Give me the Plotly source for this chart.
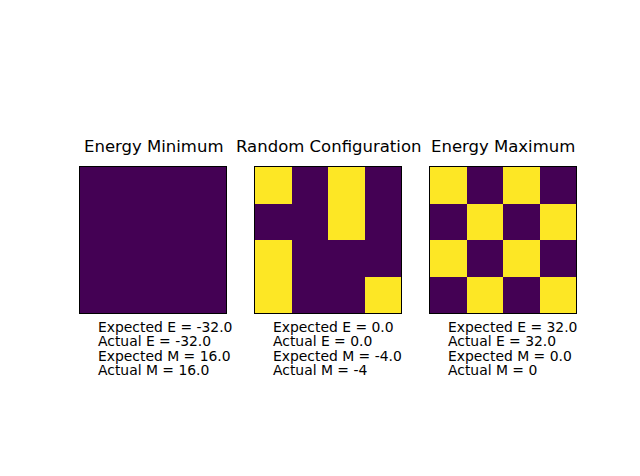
import plotly.graph_objects as go

titles = ["Energy Minimum", "Random Configuration", "Energy Maximum"]
grid_min = [[1, 1, 1, 1],
            [1, 1, 1, 1],
            [1, 1, 1, 1],
            [1, 1, 1, 1]]
grid_rand = [[1, -1, 1, -1],
             [-1, -1, 1, -1],
             [1, -1, -1, -1],
             [1, -1, -1, 1]]
grid_max = [[1, -1, 1, -1],
            [-1, 1, -1, 1],
            [1, -1, 1, -1],
            [-1, 1, -1, 1]]
grids = [grid_min, grid_rand, grid_max]
expected_E = ["-32.0", "0.0", "32.0"]
actual_E = ["-32.0", "0.0", "32.0"]
expected_M = ["16.0", "-4.0", "0.0"]
actual_M = ["16.0", "-4", "0"]

# page has an 8px body margin; figure is sized to fit inside the window
OFF = 8
W, H = 640 - OFF, 476 - OFF
ax_left = [80 - OFF, 255 - OFF, 430 - OFF]
ax_w = 146
ax_top, ax_bot = 167 - OFF, 313 - OFF

fig = go.Figure()
font = "DejaVu Sans, Liberation Sans, sans-serif"
anns = []
for i, z in enumerate(grids):
    flat = [v for r in z for v in r]
    zmin, zmax = min(flat), max(flat)
    if zmax == zmin:
        zmax = zmin + 1
    n = "" if i == 0 else str(i + 1)
    fig.add_trace(go.Heatmap(z=z, colorscale="Viridis", zmin=zmin, zmax=zmax,
                             showscale=False, xaxis="x" + n, yaxis="y" + n,
                             hoverinfo="skip"))
    dom_x = [ax_left[i] / W, (ax_left[i] + ax_w) / W]
    dom_y = [1 - ax_bot / H, 1 - ax_top / H]
    common = dict(showgrid=False, zeroline=False, showticklabels=False, ticks="",
                  showline=True, linecolor="black", linewidth=1, mirror=True)
    fig.update_layout(**{
        "xaxis" + n: dict(domain=dom_x, range=[-0.5, 3.5], anchor="y" + n, **common),
        "yaxis" + n: dict(domain=dom_y, range=[3.5, -0.5], anchor="x" + n, **common),
    })
    cx = (ax_left[i] + ax_w / 2) / W
    anns.append(dict(text=titles[i], x=cx, y=1 - (146 - OFF) / H, xref="paper", yref="paper",
                     xanchor="center", yanchor="middle", showarrow=False,
                     font=dict(family=font, size=16.5, color="black")))
    lines = [f"Expected E = {expected_E[i]}", f"Actual E = {actual_E[i]}",
             f"Expected M = {expected_M[i]}", f"Actual M = {actual_M[i]}"]
    for j, t in enumerate(lines):
        anns.append(dict(text=t, x=(ax_left[i] + 18.3) / W,
                         y=1 - (327 - OFF + 14.3 * j) / H, xref="paper", yref="paper",
                         xanchor="left", yanchor="middle", showarrow=False,
                         borderpad=0, borderwidth=0,
                         font=dict(family=font, size=13.9, color="black")))

fig.update_layout(width=W, height=H, margin=dict(l=0, r=0, t=0, b=0),
                  paper_bgcolor="white", plot_bgcolor="white",
                  annotations=anns, showlegend=False)
fig.write_html("out.html")
